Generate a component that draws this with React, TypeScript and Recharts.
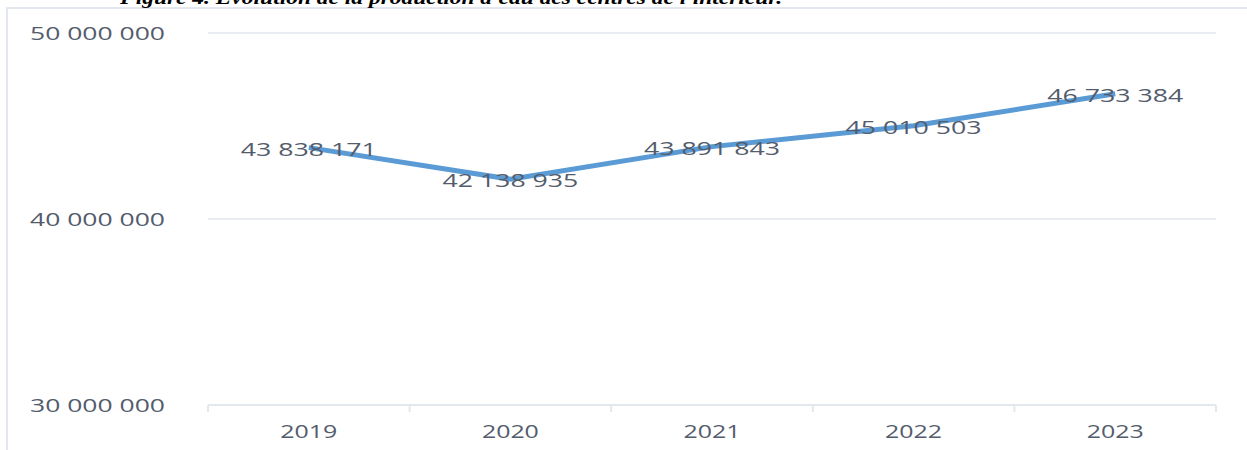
import { LineChart, Line, XAxis, YAxis, CartesianGrid, LabelList } from "recharts";

const years = ["2019", "2020", "2021", "2022", "2023"];
const production = [43838171, 42138935, 43891843, 45010503, 46733384];
const yTicks = [30000000, 40000000, 50000000];

const title = "Figure 4. Evolution de la production d'eau des centres de l'intérieur.";

const data = years.map((y, i) => ({ year: y, value: production[i] }));

const TEXT = "#535C6C";
const GRID = "#E3E7EE";
const LINE = "#5B9BD5";

// nombres au format "43 838 171"
const fmt = (v: number) => Math.round(v).toString().replace(/\B(?=(\d{3})+(?!\d))/g, " ");

const YTick = (props: any) => {
  const { x, y, payload } = props;
  return (
    <text
      x={x}
      y={y}
      textAnchor="end"
      dominantBaseline="central"
      fill={TEXT}
      fontSize={19}
      fontFamily="Open Sans"
      textLength={135}
      lengthAdjust="spacingAndGlyphs"
    >
      {fmt(payload.value)}
    </text>
  );
};

const XTick = (props: any) => {
  const { x, y, payload, index, visibleTicksCount } = props;
  const half = payload.offset || 0;
  return (
    <g>
      <line x1={x - half} x2={x - half} y1={y} y2={y + 7} stroke={GRID} strokeWidth={2} />
      {index === visibleTicksCount - 1 && (
        <line x1={x + half} x2={x + half} y1={y} y2={y + 7} stroke={GRID} strokeWidth={2} />
      )}
      <text
        x={x}
        y={y + 26}
        textAnchor="middle"
        dominantBaseline="central"
        fill={TEXT}
        fontSize={19}
        fontFamily="Open Sans"
        textLength={57}
        lengthAdjust="spacingAndGlyphs"
      >
        {payload.value}
      </text>
    </g>
  );
};

const ValueLabel = (props: any) => {
  const { x, y, value } = props;
  return (
    <text
      x={x}
      y={y + 1}
      textAnchor="middle"
      dominantBaseline="central"
      fill={TEXT}
      fontSize={19}
      fontFamily="Open Sans"
      textLength={136}
      lengthAdjust="spacingAndGlyphs"
    >
      {fmt(value)}
    </text>
  );
};

export default function App() {
  return (
    <div style={{ position: "absolute", left: 0, top: 0, width: 1247, height: 450, overflow: "hidden", background: "#fff" }}>
      {/* cadre du graphique */}
      <div
        style={{
          position: "absolute",
          left: 6,
          top: 7,
          width: 1247,
          height: 450,
          borderLeft: `2px solid ${GRID}`,
          borderTop: `2px solid ${GRID}`,
        }}
      />
      <svg width={1247} height={12} style={{ position: "absolute", left: 0, top: 0 }}>
        <text
          x={120}
          y={4}
          fontFamily="Liberation Serif"
          fontWeight="bold"
          fontStyle="italic"
          fontSize={19}
          fill="#000"
          textLength={662}
          lengthAdjust="spacingAndGlyphs"
        >
          {title}
        </text>
      </svg>
      <div style={{ position: "absolute", left: 0, top: 0 }}>
        <LineChart width={1247} height={450} data={data} margin={{ top: 33, right: 31, bottom: 0, left: 8 }}>
          <CartesianGrid vertical={false} stroke={GRID} strokeWidth={1.5} />
          <XAxis
            dataKey="year"
            scale="band"
            axisLine={{ stroke: GRID, strokeWidth: 2 }}
            tickLine={false}
            tick={<XTick />}
            tickSize={0}
            tickMargin={0}
            interval={0}
            height={45}
          />
          <YAxis
            domain={[30000000, 50000000]}
            ticks={yTicks}
            width={200}
            axisLine={false}
            tickLine={false}
            tickSize={0}
            tickMargin={43}
            tick={<YTick />}
          />
          <Line
            type="linear"
            dataKey="value"
            stroke={LINE}
            strokeWidth={5}
            dot={false}
            isAnimationActive={false}
          >
            <LabelList dataKey="value" content={<ValueLabel />} />
          </Line>
        </LineChart>
      </div>
    </div>
  );
}
